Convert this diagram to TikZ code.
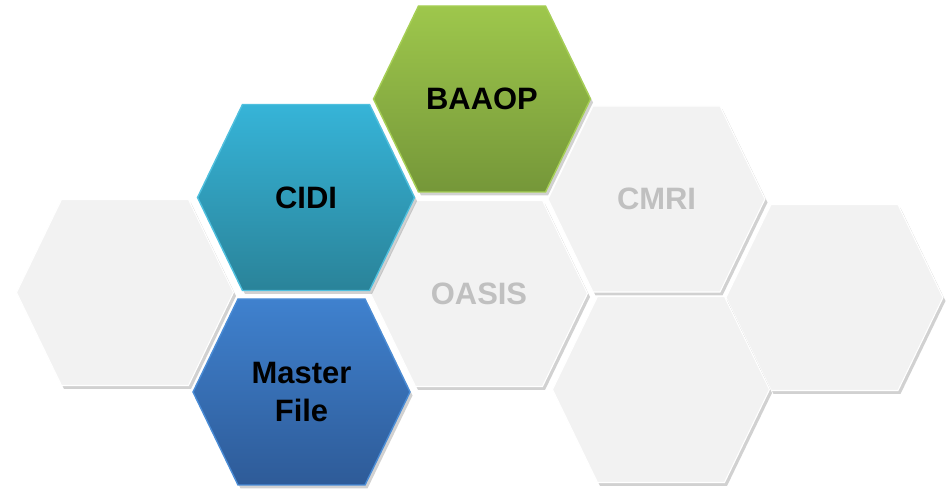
\documentclass[tikz,border=0pt]{standalone}
\usepackage{fontspec}
\setmainfont{Liberation Sans}
\usetikzlibrary{shadows}

\definecolor{cidiTop}{HTML}{36B4D8}
\definecolor{cidiBot}{HTML}{2A8399}
\definecolor{cidiRim}{HTML}{4FC0DE}
\definecolor{baaopTop}{HTML}{9EC74C}
\definecolor{baaopBot}{HTML}{759739}
\definecolor{baaopRim}{HTML}{A6CF55}
\definecolor{masterTop}{HTML}{3F81CE}
\definecolor{masterBot}{HTML}{2E5B98}
\definecolor{masterRim}{HTML}{4A8CD6}
\definecolor{cellGray}{HTML}{F2F2F2}
\definecolor{labelGray}{HTML}{C0C0C0}

% hexagon cell: name, centre, style, label
\newcommand{\hexcell}[4]{%
  \path[hex base, #3] (#2) ++(-108.5,0) -- ++(45,-93) -- ++(127,0)
    -- ++(45,93) -- ++(-45,93) -- ++(-127,0) -- cycle;
  \node[hex label] (#1) at (#2) {#4};
}

\begin{document}
\begin{tikzpicture}[x=0.02cm, y=-0.02cm,
    hex base/.style={drop shadow={shadow xshift=0.05cm, shadow yshift=-0.07cm, opacity=0.18, fill=black}},
    gray cell/.style={fill=cellGray, draw=white, line width=0.6pt},
    cidi cell/.style={top color=cidiTop, bottom color=cidiBot, draw=cidiRim, line width=0.8pt},
    baaop cell/.style={top color=baaopTop, bottom color=baaopBot, draw=baaopRim, line width=0.8pt},
    master cell/.style={top color=masterTop, bottom color=masterBot, draw=masterRim, line width=0.8pt},
    hex label/.style={font=\fontsize{17.6}{21.5}\selectfont\bfseries, align=center, text=black},
    faded/.style={text=labelGray}]
  \useasboundingbox (0,0) rectangle (947,492);

  % grey cells
  \hexcell{left}{125,292.5}{gray cell}{}
  \hexcell{oasis}{479,293.5}{gray cell}{}
  \hexcell{cmri}{656.5,199}{gray cell}{}
  \hexcell{right}{834.5,297.5}{gray cell}{}
  \hexcell{bottom}{661,389.5}{gray cell}{}

  % coloured cells
  \hexcell{cidi}{306,197.5}{cidi cell}{CIDI}
  \hexcell{baaop}{482,99}{baaop cell}{BAAOP}
  \hexcell{master}{301.5,392}{master cell}{Master\\File}

  % labels of grey cells
  \node[hex label, faded] (oasis text) at (oasis) {OASIS};
  \node[hex label, faded] (cmri text) at (cmri) {CMRI};
\end{tikzpicture}
\end{document}
